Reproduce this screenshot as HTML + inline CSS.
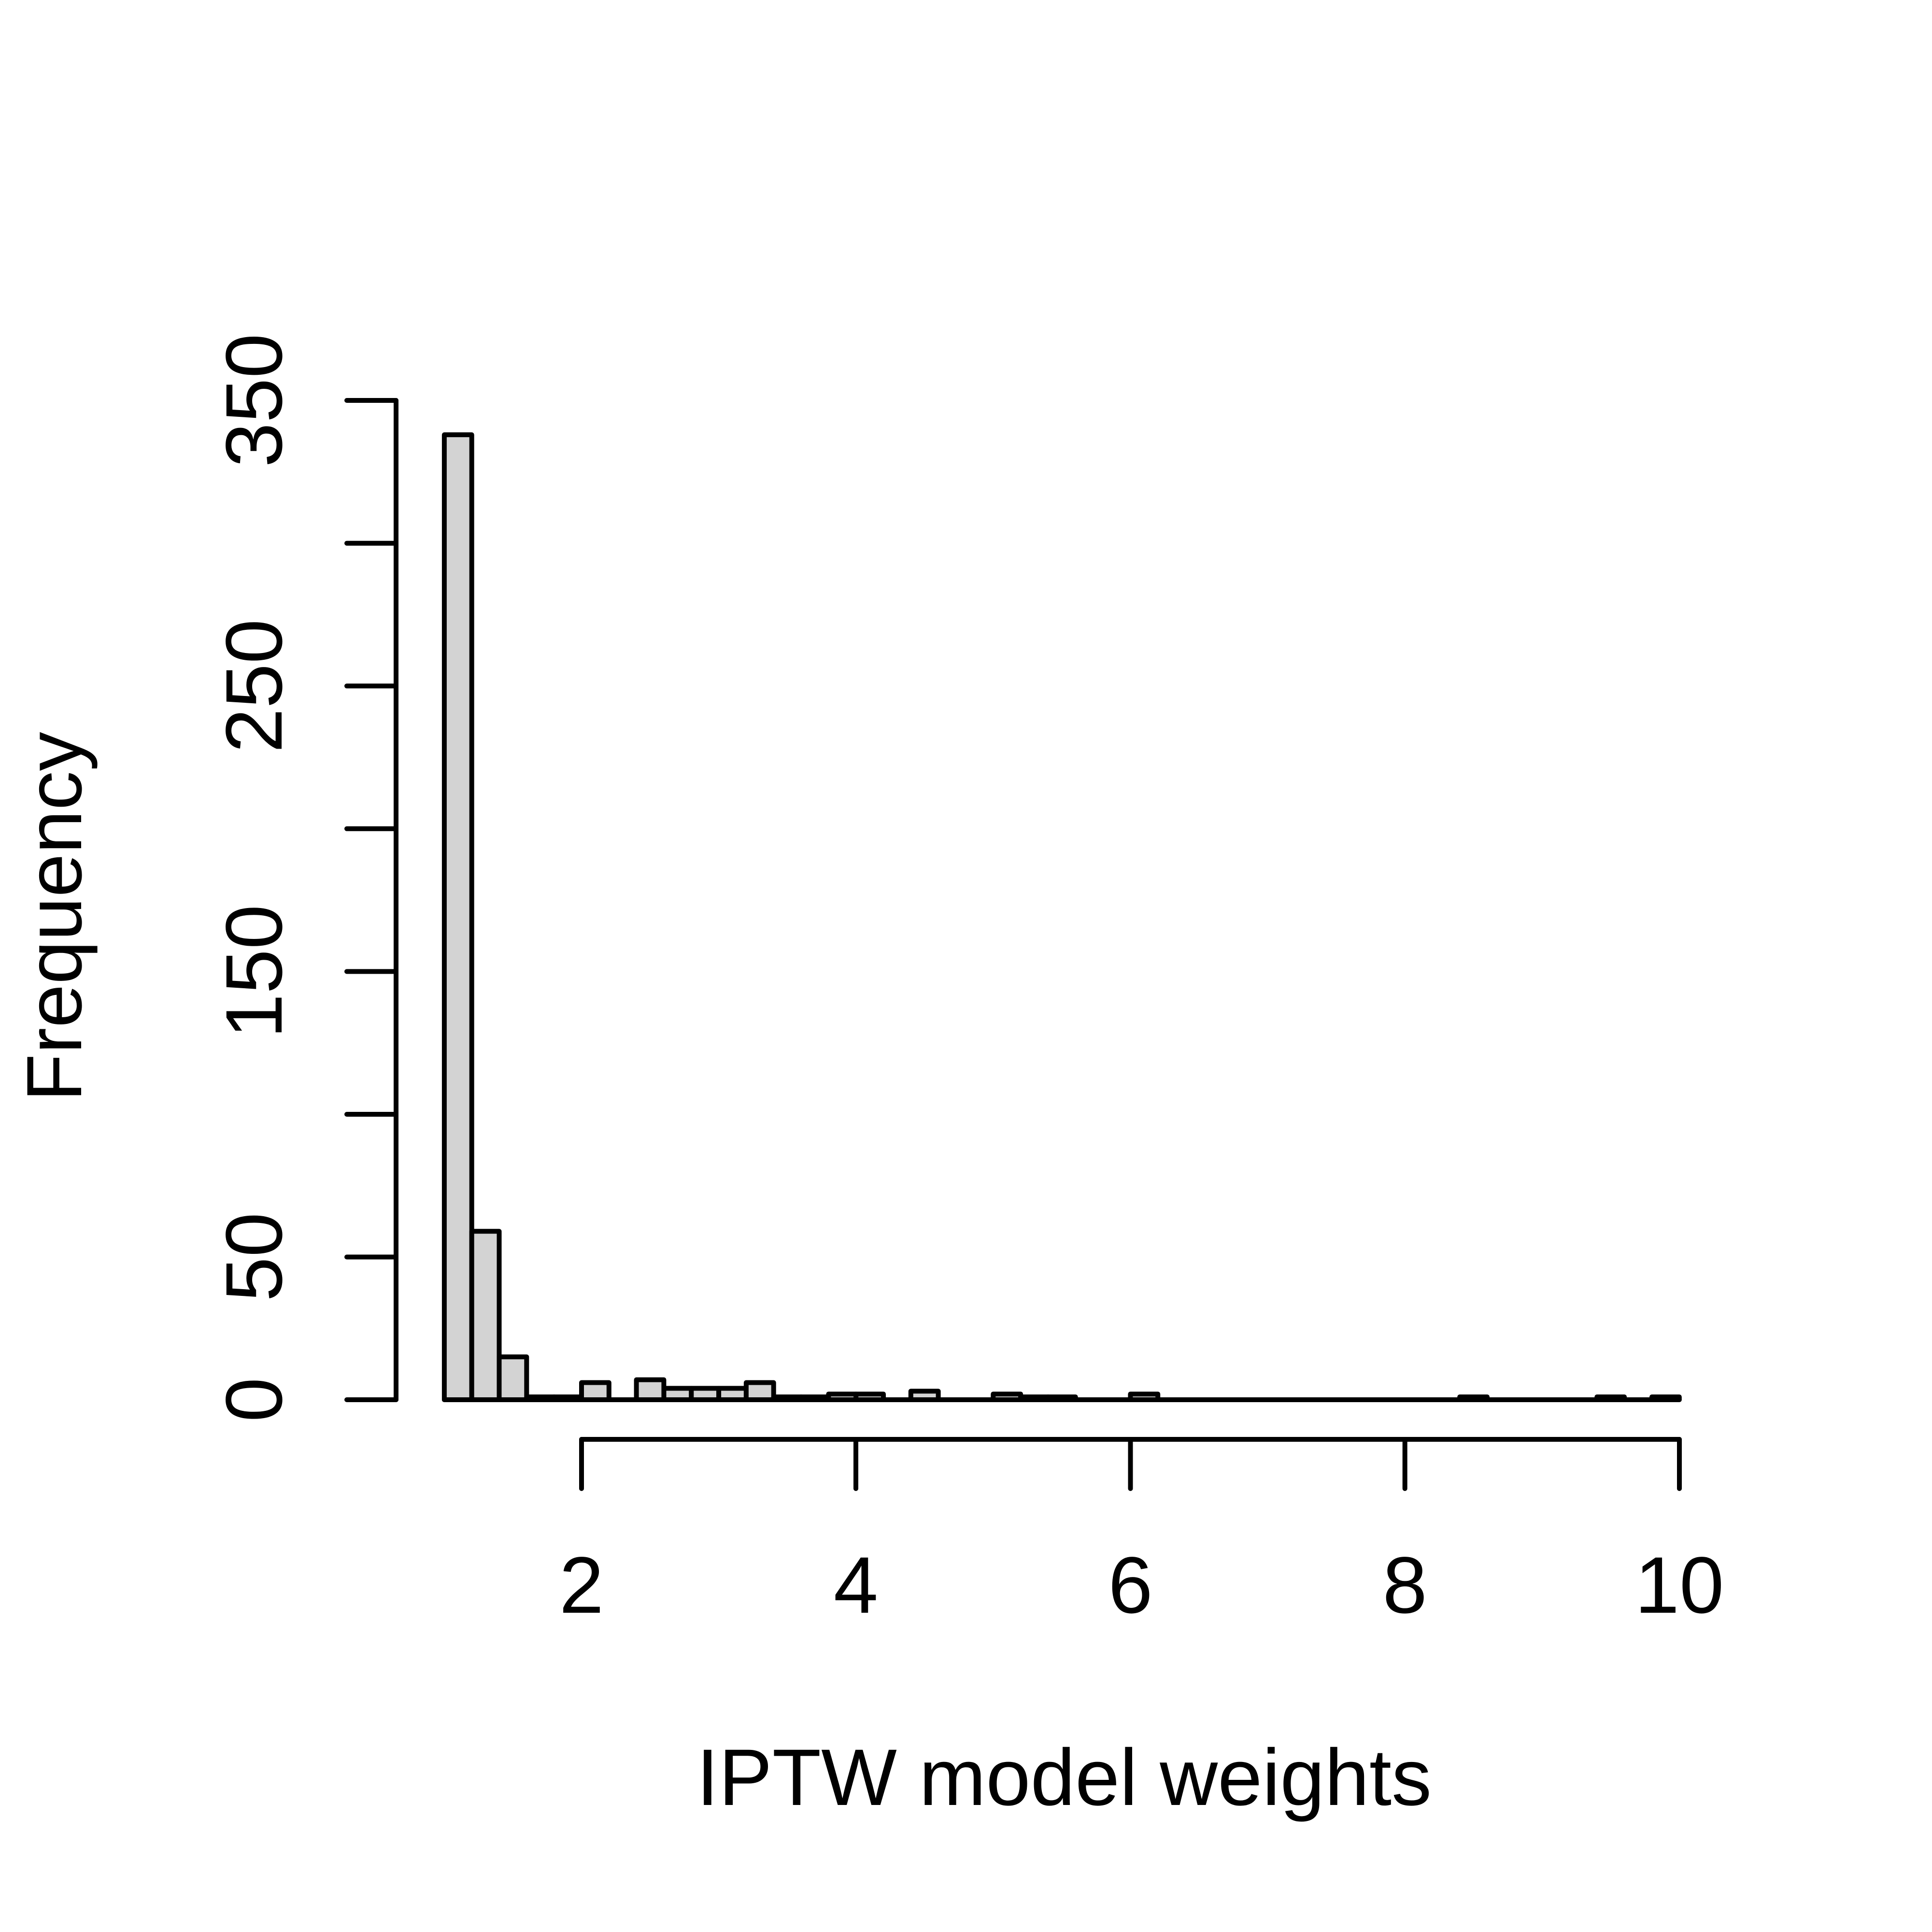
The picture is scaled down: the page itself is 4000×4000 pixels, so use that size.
<!DOCTYPE html>
<html><head><meta charset="utf-8"><style>html,body{margin:0;padding:0;background:#fff}svg{display:block}</style></head>
<body>
<svg width="4000" height="4000" viewBox="0 0 4000 4000" xmlns="http://www.w3.org/2000/svg" font-family="Liberation Sans, Arial, sans-serif">
<rect width="4000" height="4000" fill="#fff"/>
<g fill="#d3d3d3" stroke="#000" stroke-width="10" stroke-linejoin="round">
<rect x="919.9" y="900.1" width="56.82" height="1997.9"/>
<rect x="976.7" y="2549.3" width="56.82" height="348.7"/>
<rect x="1033.5" y="2809.3" width="56.82" height="88.7"/>
<rect x="1090.4" y="2892.1" width="56.82" height="5.9"/>
<rect x="1147.2" y="2892.1" width="56.82" height="5.9"/>
<rect x="1204.0" y="2862.5" width="56.82" height="35.5"/>
<rect x="1317.6" y="2856.6" width="56.82" height="41.4"/>
<rect x="1374.5" y="2874.4" width="56.82" height="23.6"/>
<rect x="1431.3" y="2874.4" width="56.82" height="23.6"/>
<rect x="1488.1" y="2874.4" width="56.82" height="23.6"/>
<rect x="1544.9" y="2862.5" width="56.82" height="35.5"/>
<rect x="1601.7" y="2892.1" width="56.82" height="5.9"/>
<rect x="1658.6" y="2892.1" width="56.82" height="5.9"/>
<rect x="1715.4" y="2886.2" width="56.82" height="11.8"/>
<rect x="1772.2" y="2886.2" width="56.82" height="11.8"/>
<rect x="1885.8" y="2880.3" width="56.82" height="17.7"/>
<rect x="2056.3" y="2886.2" width="56.82" height="11.8"/>
<rect x="2113.1" y="2892.1" width="56.82" height="5.9"/>
<rect x="2169.9" y="2892.1" width="56.82" height="5.9"/>
<rect x="2340.4" y="2886.2" width="56.82" height="11.8"/>
<rect x="3022.2" y="2892.1" width="56.82" height="5.9"/>
<rect x="3306.3" y="2892.1" width="56.82" height="5.9"/>
<rect x="3420.0" y="2892.1" width="56.82" height="5.9"/>
</g>
<g stroke="#000" stroke-width="10" stroke-linecap="round" fill="none">
<path d="M919.9 2898 H3476.8"/>
<path d="M820 2898 V829"/>
<path d="M718 2898 H820 M718 2602.5 H820 M718 2307 H820 M718 2011.4 H820 M718 1715.8 H820 M718 1420.3 H820 M718 1124.7 H820 M718 829 H820"/>
<path d="M1204 2980 H3477"/>
<path d="M1204 2980 V3082 M1772 2980 V3082 M2340.5 2980 V3082 M2908.7 2980 V3082 M3477 2980 V3082"/>
</g>
<g font-size="166" text-anchor="middle" fill="#000">
<text x="1204" y="3339">2</text>
<text x="1772" y="3339">4</text>
<text x="2340.5" y="3339">6</text>
<text x="2908.7" y="3339">8</text>
<text x="3477" y="3339">10</text>
<text transform="translate(583,2898) rotate(-90)">0</text>
<text transform="translate(583,2602.5) rotate(-90)">50</text>
<text transform="translate(583,2011.4) rotate(-90)">150</text>
<text transform="translate(583,1420.3) rotate(-90)">250</text>
<text transform="translate(583,829) rotate(-90)">350</text>
</g>
<g text-anchor="middle" fill="#000">
<text x="2203" y="3737" font-size="166">IPTW model weights</text>
<text transform="translate(168,1898) rotate(-90)" font-size="162">Frequency</text>
</g>
</svg>
</body></html>
